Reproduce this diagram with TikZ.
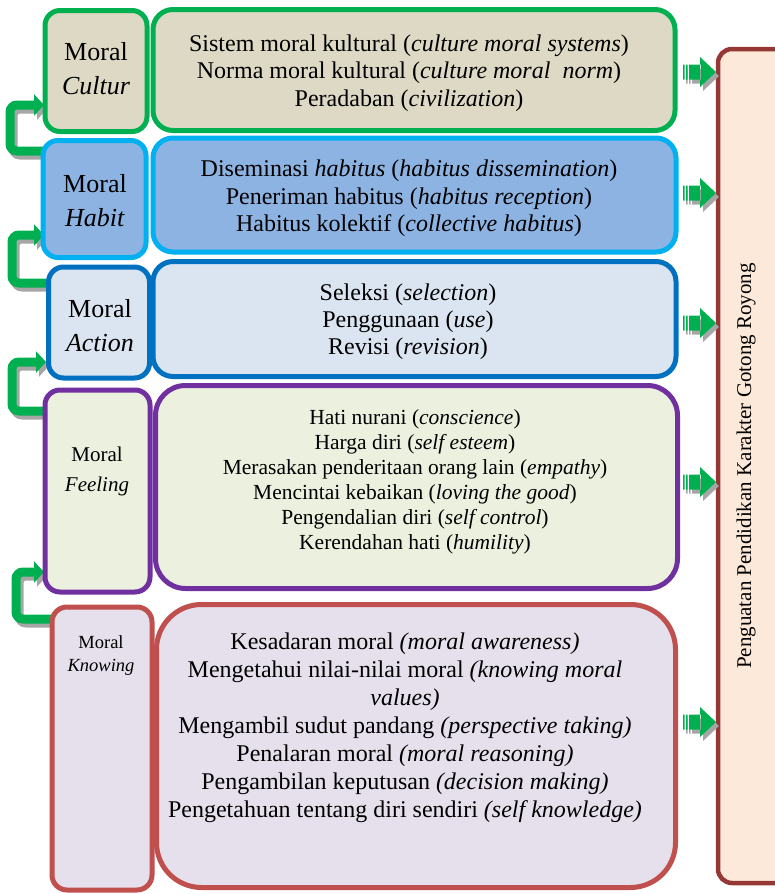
\documentclass[tikz,border=0pt]{standalone}
\usepackage{fontspec}
\setmainfont{Liberation Serif}
\usetikzlibrary{arrows.meta}

\definecolor{cgreen}{HTML}{00B050}
\definecolor{culfill}{HTML}{DDD9C4}
\definecolor{habline}{HTML}{00B0F0}
\definecolor{habfill}{HTML}{8DB3E2}
\definecolor{actline}{HTML}{0070C0}
\definecolor{actfill}{HTML}{DBE5F1}
\definecolor{felline}{HTML}{7030A0}
\definecolor{felfill}{HTML}{EBF1DE}
\definecolor{knoline}{HTML}{C0504D}
\definecolor{knofill}{HTML}{E5E0EC}
\definecolor{tallline}{HTML}{953735}
\definecolor{tallfill}{HTML}{FDE9D9}
\definecolor{shadowgray}{HTML}{A6A6A6}

\tikzset{
  panel/.style={draw, line width=5pt, rounded corners=#1, inner sep=0pt},
  lbl/.style={align=center, inner sep=0pt},
  elbow/.style={draw=cgreen, line width=9pt, rounded corners=7pt,
    -{Triangle[length=10pt,width=21pt]}},
  elbowshadow/.style={draw=shadowgray, line width=9pt, rounded corners=7pt,
    -{Triangle[length=10pt,width=21pt]},
    transform canvas={shift={(3pt,-4pt)}}}
}

% striped block arrow whose tip sits on the given coordinate
\newcommand\blockarrow[1]{%
  \begin{scope}[shift={(#1)}]
    \begin{scope}[shift={(3,4)}]
      \fill[shadowgray] (-33,-7.5) rectangle (-31.5,7.5)
        (-30,-7.5) rectangle (-28.5,7.5)
        (-27,-7.5) rectangle (-15,7.5)
        (-16,-15) -- (0,0) -- (-16,15) -- cycle;
    \end{scope}
    \fill[cgreen] (-33,-7.5) rectangle (-31.5,7.5)
      (-30,-7.5) rectangle (-28.5,7.5)
      (-27,-7.5) rectangle (-15,7.5)
      (-16,-15) -- (0,0) -- (-16,15) -- cycle;
  \end{scope}}

\begin{document}
\begin{tikzpicture}[x=1pt,y=-1pt]
\useasboundingbox (0,0) rectangle (775,894);
\clip (0,0) rectangle (775,894);

% ---- elbow arrows between the stages (drawn beneath the boxes) ----
\coordinate (e1s) at (45,151);  \coordinate (e1t) at (44,105);
\coordinate (e2s) at (46,283);  \coordinate (e2t) at (44,235);
\coordinate (e3s) at (47,411);  \coordinate (e3t) at (46,362);
\coordinate (e4s) at (53,619);  \coordinate (e4t) at (44,572);

\draw[elbowshadow] (e1s) -- ++(-35,0) |- (e1t);
\draw[elbow]       (e1s) -- ++(-35,0) |- (e1t);
\draw[elbowshadow] (e2s) -- ++(-34,0) |- (e2t);
\draw[elbow]       (e2s) -- ++(-34,0) |- (e2t);
\draw[elbowshadow] (e3s) -- ++(-35,0) |- (e3t);
\draw[elbow]       (e3s) -- ++(-35,0) |- (e3t);
\draw[elbowshadow] (e4s) -- ++(-37,0) |- (e4t);
\draw[elbow]       (e4s) -- ++(-37,0) |- (e4t);

% ---- Moral Cultur ----
\node[panel=15pt, draw=cgreen, fill=culfill, minimum width=102pt, minimum height=121pt] (culL) at (96,71) {};
\node[panel=20pt, draw=cgreen, fill=culfill, minimum width=522pt, minimum height=121pt] (culR) at (414,70) {};
% ---- Moral Habit ----
\node[panel=15pt, draw=habline, fill=habfill, minimum width=103pt, minimum height=117pt] (habL) at (94.5,199) {};
\node[panel=20pt, draw=habline, fill=habfill, minimum width=523pt, minimum height=114pt] (habR) at (414.5,195) {};
% ---- Moral Action ----
\node[panel=15pt, draw=actline, fill=actfill, minimum width=101pt, minimum height=111pt] (actL) at (99,322.5) {};
\node[panel=20pt, draw=actline, fill=actfill, minimum width=523pt, minimum height=115pt] (actR) at (414.5,319) {};
% ---- Moral Feeling ----
\node[panel=15pt, draw=felline, fill=felfill, minimum width=105pt, minimum height=202pt] (felL) at (97.5,491) {};
\node[panel=30pt, draw=felline, fill=felfill, minimum width=522pt, minimum height=203pt] (felR) at (416.5,487) {};
% ---- Moral Knowing ----
\node[panel=15pt, draw=knoline, fill=knofill, minimum width=100pt, minimum height=283pt] (knoL) at (102,748.5) {};
\node[panel=45pt, draw=knoline, fill=knofill, minimum width=519pt, minimum height=283pt] (knoR) at (416,746) {};

% ---- goal box on the right ----
\node[panel=14pt, line width=4.5pt, draw=tallline, fill=tallfill, minimum width=82pt, minimum height=834pt] (goal) at (759,466) {};
\node[lbl, rotate=90, font=\fontsize{21}{25}\selectfont] (goaltext) at (746,466) {Penguatan Pendidikan Karakter Gotong Royong};

% ---- stage labels ----
\node[lbl, font=\fontsize{26}{34}\selectfont] (culLt) at (96,69) {Moral\\\textit{Cultur}};
\node[lbl, font=\fontsize{26}{34}\selectfont] (habLt) at (95,201) {Moral\\\textit{Habit}};
\node[lbl, font=\fontsize{26}{34}\selectfont] (actLt) at (100,326) {Moral\\\textit{Action}};
\node[lbl, font=\fontsize{21}{30}\selectfont] (felLt) at (97,471) {Moral\\\textit{Feeling}};
\node[lbl, font=\fontsize{18.5}{23}\selectfont] (knoLt) at (101,656) {Moral\\\textit{Knowing}};

% ---- stage contents ----
\node[lbl, font=\fontsize{24}{27.5}\selectfont] (culRt) at (409,73) {Sistem moral kultural (\textit{culture moral systems})\\
Norma moral kultural (\textit{culture moral\ \ norm})\\
Peradaban (\textit{civilization})};
\node[lbl, font=\fontsize{24}{27.5}\selectfont] (habRt) at (409,198.5) {Diseminasi \textit{habitus} (\textit{habitus dissemination})\\
Peneriman habitus (\textit{habitus reception})\\
Habitus kolektif (\textit{collective habitus})};
\node[lbl, font=\fontsize{24}{27}\selectfont] (actRt) at (408,321.5) {Seleksi (\textit{selection})\\
Penggunaan (\textit{use})\\
Revisi (\textit{revision})};
\node[lbl, font=\fontsize{21.5}{25}\selectfont] (felRt) at (415,482) {Hati nurani (\textit{conscience})\\
Harga diri (\textit{self esteem})\\
Merasakan penderitaan orang lain (\textit{empathy})\\
Mencintai kebaikan (\textit{loving the good})\\
Pengendalian diri (\textit{self control})\\
Kerendahan hati (\textit{humility})};
\node[lbl, font=\fontsize{24}{28}\selectfont] (knoRt) at (405,727.5) {Kesadaran moral \textit{(moral awareness)}\\
Mengetahui nilai-nilai moral \textit{(knowing moral}\\
\textit{values)}\\
Mengambil sudut pandang \textit{(perspective taking)}\\
Penalaran moral \textit{(moral reasoning)}\\
Pengambilan keputusan \textit{(decision making)}\\
Pengetahuan tentang diri sendiri \textit{(self knowledge)}};

% ---- block arrows into the goal box ----
\coordinate (a1) at (716,72);
\coordinate (a2) at (716,193);
\coordinate (a3) at (716,323);
\coordinate (a4) at (716,482);
\coordinate (a5) at (716,722);
\blockarrow{a1}
\blockarrow{a2}
\blockarrow{a3}
\blockarrow{a4}
\blockarrow{a5}
\end{tikzpicture}
\end{document}
